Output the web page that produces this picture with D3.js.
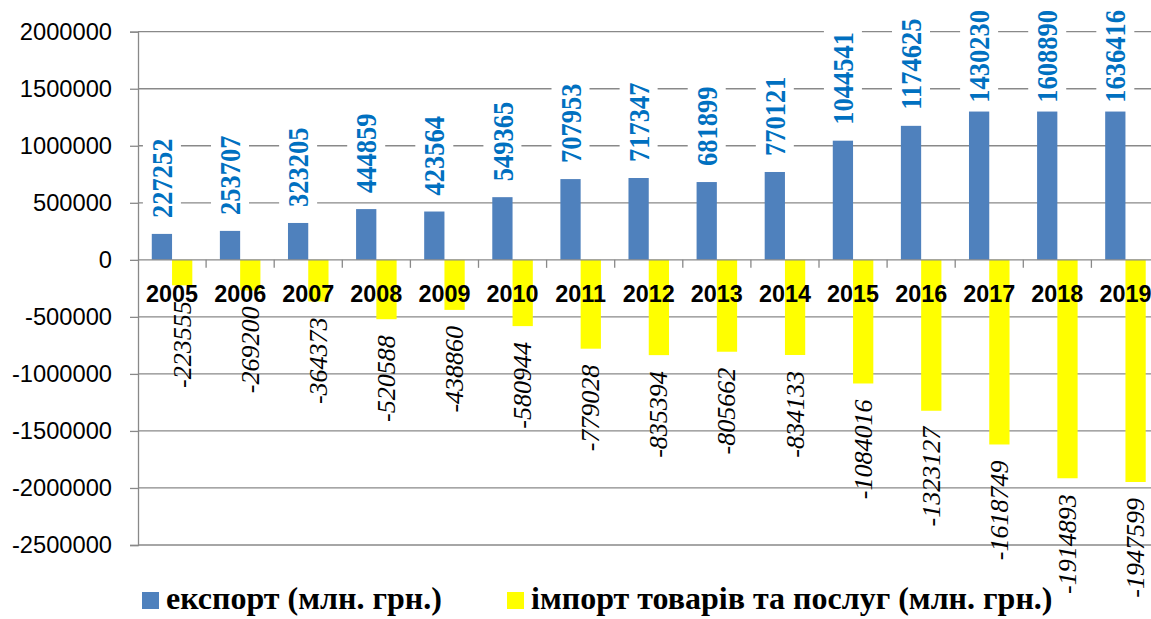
<!DOCTYPE html>
<html>
<head>
<meta charset="utf-8">
<script src="https://cdn.jsdelivr.net/npm/d3@7"></script>
<style>
  body { margin: 0; background: #fff; }
  svg { display: block; overflow: hidden; }
</style>
</head>
<body>
<svg id="chart" width="1151" height="619"></svg>
<script>
// data
var years = ["2005","2006","2007","2008","2009","2010","2011","2012","2013","2014","2015","2016","2017","2018","2019"];
var exportLabels = [227252,253707,323205,444859,423564,549365,707953,717347,681899,770121,1044541,1174625,1430230,1608890,1636416];
// bar heights as drawn (last three bars stop at ~1.3 mln in the original)
var exportBars = [227252,253707,323205,444859,423564,549365,707953,717347,681899,770121,1044541,1174625,1300000,1300000,1300000];
var importValues = [-223555,-269200,-364373,-520588,-438860,-580944,-779028,-835394,-805662,-834133,-1084016,-1323127,-1618749,-1914893,-1947599];
var yTicks = [2000000,1500000,1000000,500000,0,-500000,-1000000,-1500000,-2000000,-2500000];
var series = ["export","import"];
var seriesNames = ["експорт (млн. грн.)","імпорт товарів та послуг (млн. грн.)"];
var colors = {"export":"#4F81BD","import":"#FFFF00"};

var svg = d3.select("#chart");
var plotLeft = 138, plotRight = 1159.5, plotTop = 31.7, plotBottom = 545;

var x0 = d3.scaleBand().domain(years).range([plotLeft, plotRight]);
var x1 = d3.scaleBand().domain(series).range([0, x0.bandwidth()]).paddingOuter(0.68);
var y = d3.scaleLinear().domain([-2500000, 2000000]).range([plotBottom, plotTop]);

// grid
svg.append("g").selectAll("line")
  .data(yTicks.filter(function(d){ return d != 0; }))
  .enter().append("line")
  .attr("x1", plotLeft).attr("x2", 1151)
  .attr("y1", function(d){ return y(d); })
  .attr("y2", function(d){ return y(d); })
  .attr("stroke", "#898989")
  .attr("stroke-width", 1.3);

// y axis
var yAxis = svg.append("g")
  .attr("transform", "translate(" + plotLeft + ",0)")
  .call(d3.axisLeft(y).tickValues(yTicks).tickSize(8).tickPadding(18)
    .tickFormat(function(d){ return String(d); }));
yAxis.select(".domain").attr("stroke", "#898989").attr("stroke-width", 1.3);
yAxis.selectAll(".tick line").attr("stroke", "#898989").attr("stroke-width", 1.3);
yAxis.selectAll(".tick text")
  .attr("fill", "#000")
  .style("font-family", "'Liberation Sans', Arial, sans-serif")
  .style("font-size", "23.7px");

// bars
var groups = svg.append("g").selectAll("g")
  .data(years)
  .enter().append("g")
  .attr("transform", function(d){ return "translate(" + x0(d) + ",0)"; });

groups.append("rect")
  .attr("x", x1("export"))
  .attr("width", x1.bandwidth())
  .attr("y", function(d,i){ return y(exportBars[i]); })
  .attr("height", function(d,i){ return y(0) - y(exportBars[i]); })
  .attr("fill", colors["export"]);

groups.append("rect")
  .attr("x", x1("import"))
  .attr("width", x1.bandwidth())
  .attr("y", y(0))
  .attr("height", function(d,i){ return y(importValues[i]) - y(0); })
  .attr("fill", colors["import"]);

// x axis line and ticks
var xAxis = svg.append("g")
  .attr("transform", "translate(0," + y(0) + ")");
xAxis.append("line")
  .attr("x1", plotLeft).attr("x2", 1151)
  .attr("stroke", "#898989").attr("stroke-width", 1.3);
xAxis.selectAll(".xt")
  .data(years)
  .enter().append("line")
  .attr("class", "xt")
  .attr("x1", function(d){ return x0(d) + x0.bandwidth(); })
  .attr("x2", function(d){ return x0(d) + x0.bandwidth(); })
  .attr("y1", 0).attr("y2", 8)
  .attr("stroke", "#898989").attr("stroke-width", 1.3);

// year labels
svg.append("g").selectAll("text")
  .data(years)
  .enter().append("text")
  .attr("x", function(d){ return x0(d) + x0.bandwidth() / 2; })
  .attr("y", 302)
  .attr("text-anchor", "middle")
  .style("font-family", "'Liberation Sans', Arial, sans-serif")
  .style("font-weight", "bold")
  .style("font-size", "23.4px")
  .text(function(d){ return d; });

// export labels (white box behind, pushed down if they don't fit at top)
var expLab = svg.append("g").selectAll("g")
  .data(years)
  .enter().append("g");
expLab.each(function(d,i){
  var g = d3.select(this);
  var cx = x0(d) + x1("export") + x1.bandwidth() / 2;
  var bg = g.append("rect").attr("fill", "#fff");
  var t = g.append("text")
    .attr("text-anchor", "start")
    .attr("dominant-baseline", "central")
    .attr("fill", "#0070C0")
    .style("font-family", "'Liberation Serif', 'Times New Roman', serif")
    .style("font-weight", "bold")
    .style("font-size", "26.5px")
    .text(exportLabels[i]);
  var len = t.node().getComputedTextLength();
  var yb = y(exportBars[i]) - 16;
  if (yb - len < 10) yb = 10 + len;
  t.attr("transform", "translate(" + cx + "," + yb + ") rotate(-90) scale(1,1.15)");
  bg.attr("x", cx - 19).attr("width", 38)
    .attr("y", yb - len - 3).attr("height", len + 6);
});

// import labels
svg.append("g").selectAll("text")
  .data(years)
  .enter().append("text")
  .attr("transform", function(d,i){
    var cx = x0(d) + x1("import") + x1.bandwidth() / 2;
    return "translate(" + cx + "," + (y(importValues[i]) + 16) + ") rotate(-90)";
  })
  .attr("text-anchor", "end")
  .attr("dominant-baseline", "central")
  .attr("fill", "#000")
  .style("font-family", "'Liberation Serif', 'Times New Roman', serif")
  .style("font-style", "italic")
  .style("font-size", "26px")
  .text(function(d,i){ return String(importValues[i]); });

// legend
var legendX = [142, 507];
var legend = svg.append("g").selectAll("g")
  .data(series)
  .enter().append("g")
  .attr("transform", function(d,i){ return "translate(" + legendX[i] + ",592)"; });
legend.append("rect")
  .attr("width", 17).attr("height", 17)
  .attr("fill", function(d){ return colors[d]; });
legend.append("text")
  .attr("x", 24).attr("y", 17)
  .style("font-family", "'Liberation Serif', 'Times New Roman', serif")
  .style("font-weight", "bold")
  .style("font-size", "32px")
  .text(function(d,i){ return seriesNames[i]; });
</script>
</body>
</html>
